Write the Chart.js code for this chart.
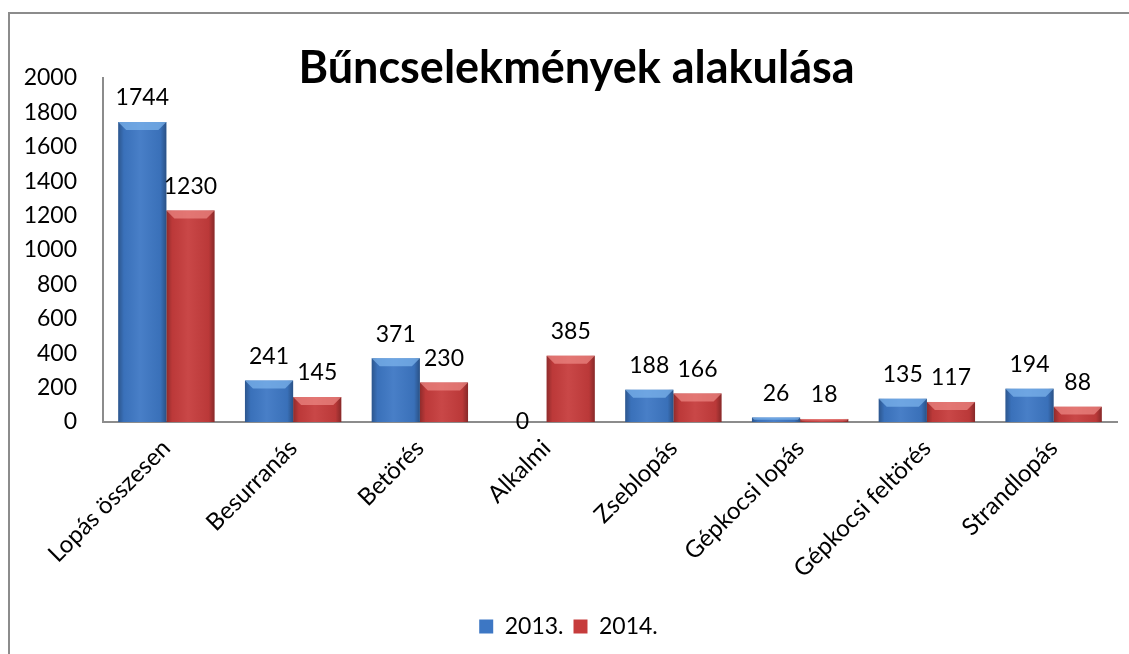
<!DOCTYPE html>
<html>
<head>
<meta charset="utf-8">
<script src="https://cdn.jsdelivr.net/npm/chart.js@4.4.1/dist/chart.umd.min.js"></script>
<style>
  html, body { margin: 0; padding: 0; background: #fff; overflow: hidden; }
  #wrap { position: relative; width: 1129px; height: 654px; }
  #frame { position: absolute; left: 8px; top: 12px; width: 1300px; height: 800px;
           border-left: 2px solid #8c8c8c; border-top: 2px solid #8c8c8c; pointer-events: none; }
  #c { position: absolute; left: 0; top: 0; }
</style>
</head>
<body>
<div id="wrap">
  <canvas id="c" width="1129" height="654"></canvas>
  <div id="frame"></div>
</div>
<script>
const chartTitle = 'Bűncselekmények alakulása';
const categories = ['Lopás összesen', 'Besurranás', 'Betörés', 'Alkalmi', 'Zseblopás', 'Gépkocsi lopás', 'Gépkocsi feltörés', 'Strandlopás'];
const seriesNames = ['2013.', '2014.'];
const values2013 = [1744, 241, 371, 0, 188, 26, 135, 194];
const values2014 = [1230, 145, 230, 385, 166, 18, 117, 88];
const yTickValues = [0, 200, 400, 600, 800, 1000, 1200, 1400, 1600, 1800, 2000];

const FONT = 'Lato, "Open Sans", sans-serif';
const baseColors = ['#3d77c4', '#c63c3c'];
const lightColors = ['#7fb6ee', '#ee8a86'];

const titlePlugin = {
  id: 'bigTitle',
  afterDraw(chart) {
    const ctx = chart.ctx;
    ctx.save();
    ctx.font = 'bold 45px ' + FONT;
    ctx.fillStyle = '#000';
    ctx.textAlign = 'center';
    ctx.textBaseline = 'middle';
    ctx.fillText(chartTitle, chart.width / 2 + 12, 68);
    ctx.restore();
  }
};

const bevelPlugin = {
  id: 'bevel',
  afterDatasetsDraw(chart) {
    const ctx = chart.ctx;
    chart.data.datasets.forEach((ds, di) => {
      const meta = chart.getDatasetMeta(di);
      meta.data.forEach((bar) => {
        const p = bar.getProps(['x', 'y', 'base', 'width'], true);
        const left = p.x - p.width / 2, right = p.x + p.width / 2;
        const top = Math.min(p.y, p.base), bottom = Math.max(p.y, p.base);
        const h = bottom - top;
        if (h <= 0.5) return;
        ctx.save();
        const g = ctx.createLinearGradient(left, 0, right, 0);
        g.addColorStop(0, 'rgba(0,0,0,0.28)');
        g.addColorStop(0.12, 'rgba(0,0,0,0.05)');
        g.addColorStop(0.45, 'rgba(255,255,255,0.06)');
        g.addColorStop(0.88, 'rgba(0,0,0,0.06)');
        g.addColorStop(1, 'rgba(0,0,0,0.32)');
        ctx.fillStyle = g;
        ctx.fillRect(left, top, p.width, h);
        const b = Math.min(8, h / 2);
        ctx.beginPath();
        ctx.moveTo(left, top);
        ctx.lineTo(right, top);
        ctx.lineTo(right - b, top + b);
        ctx.lineTo(left + b, top + b);
        ctx.closePath();
        ctx.fillStyle = lightColors[di];
        ctx.globalAlpha = 0.7;
        ctx.fill();
        ctx.restore();
      });
    });
  }
};

const labelPlugin = {
  id: 'valueLabels',
  afterDatasetsDraw(chart) {
    const ctx = chart.ctx;
    ctx.save();
    ctx.font = '23px ' + FONT;
    ctx.fillStyle = '#000';
    ctx.textAlign = 'center';
    ctx.textBaseline = 'middle';
    chart.data.datasets.forEach((ds, di) => {
      const meta = chart.getDatasetMeta(di);
      meta.data.forEach((bar, i) => {
        const v = ds.data[i];
        const y = v === 0 ? bar.y : bar.y - 24;
        ctx.fillText(String(v), bar.x, y);
      });
    });
    ctx.restore();
  }
};

new Chart(document.getElementById('c'), {
  type: 'bar',
  data: {
    labels: categories,
    datasets: [
      { label: seriesNames[0], data: values2013, backgroundColor: baseColors[0], borderWidth: 0 },
      { label: seriesNames[1], data: values2014, backgroundColor: baseColors[1], borderWidth: 0 }
    ]
  },
  options: {
    responsive: false,
    animation: false,
    devicePixelRatio: 1,
    layout: { padding: { top: 78, left: 20, right: 12, bottom: 6 } },
    datasets: { bar: { categoryPercentage: 0.76, barPercentage: 1.0 } },
    scales: {
      x: {
        grid: { display: false, drawTicks: false },
        border: { display: true, color: '#8c8c8c', width: 2 },
        ticks: { color: '#000', font: { family: FONT, size: 24 }, maxRotation: 45, minRotation: 45, padding: 12, autoSkip: false },
        afterFit(scale) { scale.height = 183; }
      },
      y: {
        min: 0, max: 2000,
        grid: { display: false, drawTicks: false },
        border: { display: true, color: '#8c8c8c', width: 2 },
        afterBuildTicks(scale) { scale.ticks = yTickValues.map(v => ({ value: v })); },
        ticks: { color: '#000', font: { family: FONT, size: 23 }, padding: 26, callback: (v) => String(v) },
        afterFit(scale) { scale.width = 83; }
      }
    },
    plugins: {
      legend: {
        position: 'bottom',
        labels: { color: '#000', font: { family: FONT, size: 23 }, boxWidth: 14, boxHeight: 14, padding: 10 }
      },
      title: { display: false },
      tooltip: { enabled: false }
    }
  },
  plugins: [bevelPlugin, labelPlugin, titlePlugin]
});
</script>
</body>
</html>
